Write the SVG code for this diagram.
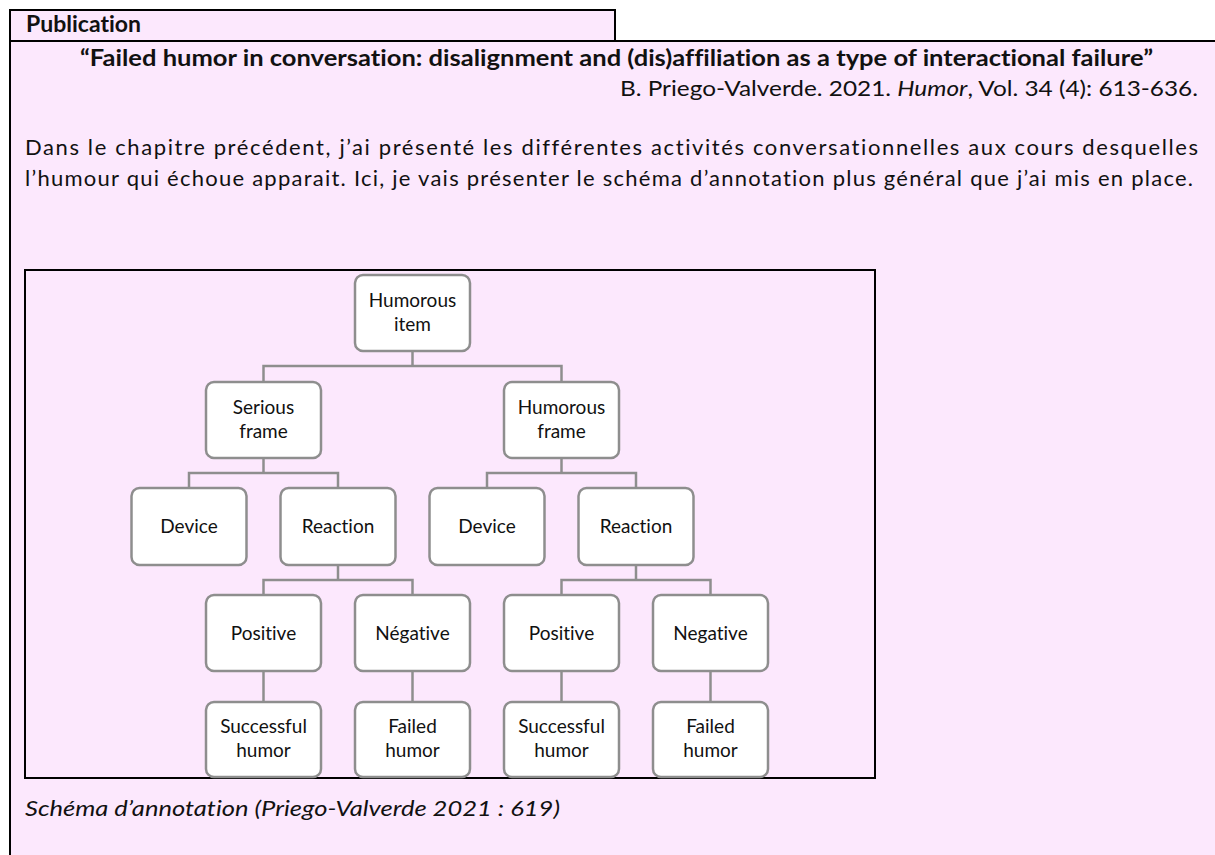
<svg xmlns="http://www.w3.org/2000/svg" width="1215" height="855" viewBox="0 0 1215 855">
<style>
.bg{fill:#fce8fd;stroke:#000;stroke-width:2}
.t{font-family:Lato,"Open Sans","Liberation Sans",sans-serif;fill:#111;font-variant-ligatures:none;font-feature-settings:"liga" 0,"clig" 0}
.b{font-weight:bold}
.i{font-style:italic}
.node rect{fill:#fff;stroke:#8e8e8e;stroke-width:2.5}
.node text{font-family:Lato,"Open Sans","Liberation Sans",sans-serif;font-size:19px;fill:#111;text-anchor:middle;font-variant-ligatures:none}
.conn path{fill:none;stroke:#8e8e8e;stroke-width:2.5}
</style>
<rect x="0" y="0" width="1215" height="855" fill="#fff"/>
<rect class="bg" x="10" y="41" width="1220" height="834"/>
<rect class="bg" x="10" y="10" width="605" height="31"/>
<text class="t b" x="26" y="32" font-size="22" textLength="115" lengthAdjust="spacingAndGlyphs">Publication</text>
<text class="t b" x="80" y="66" font-size="22" textLength="1073" lengthAdjust="spacingAndGlyphs">“Failed humor in conversation: disalignment and (dis)affiliation as a type of interactional failure”</text>
<text class="t" x="620" y="96" font-size="22" textLength="578" lengthAdjust="spacingAndGlyphs">B. Priego-Valverde. 2021. <tspan class="i">Humor</tspan>, Vol. 34 (4): 613-636.</text>
<text class="t" x="25" y="155" font-size="22" textLength="1173" lengthAdjust="spacing">Dans le chapitre précédent, j’ai présenté les différentes activités conversationnelles aux cours desquelles</text>
<text class="t" x="25" y="186" font-size="22" textLength="1168" lengthAdjust="spacing">l’humour qui échoue apparait. Ici, je vais présenter le schéma d’annotation plus général que j’ai mis en place.</text>
<rect class="bg" x="25" y="270" width="850" height="508"/>
<text class="t i" x="25" y="816" font-size="22" textLength="535" lengthAdjust="spacingAndGlyphs">Schéma d’annotation (Priego-Valverde 2021 : 619)</text>
<g class="conn">
<path d="M412.5 351V366M263.5 382V366H561.5V382"/>
<path d="M263.5 458V473M189 488V473H338V488"/>
<path d="M561.5 458V473M487 488V473H636V488"/>
<path d="M338 565V580M263.5 595V580H412.5V595"/>
<path d="M636 565V580M561.5 595V580H710.5V595"/>
<path d="M263.5 671V702M412.5 671V702M561.5 671V702M710.5 671V702"/>
</g>
<g id="n-humorous-item" class="node"><rect x="355" y="275" width="115" height="76" rx="8"/><text x="412.5" y="306.5">Humorous</text><text x="412.5" y="330.5">item</text></g>
<g id="n-serious-frame" class="node"><rect x="206" y="382" width="115" height="76" rx="8"/><text x="263.5" y="413.5">Serious</text><text x="263.5" y="437.5">frame</text></g>
<g id="n-humorous-frame" class="node"><rect x="504" y="382" width="115" height="76" rx="8"/><text x="561.5" y="413.5">Humorous</text><text x="561.5" y="437.5">frame</text></g>
<g id="n-device-l" class="node"><rect x="131.5" y="488" width="115" height="77" rx="8"/><text x="189" y="533">Device</text></g>
<g id="n-reaction-l" class="node"><rect x="280.5" y="488" width="115" height="77" rx="8"/><text x="338" y="533">Reaction</text></g>
<g id="n-device-r" class="node"><rect x="429.5" y="488" width="115" height="77" rx="8"/><text x="487" y="533">Device</text></g>
<g id="n-reaction-r" class="node"><rect x="578.5" y="488" width="115" height="77" rx="8"/><text x="636" y="533">Reaction</text></g>
<g id="n-positive-l" class="node"><rect x="206" y="595" width="115" height="76" rx="8"/><text x="263.5" y="640">Positive</text></g>
<g id="n-negative-l" class="node"><rect x="355" y="595" width="115" height="76" rx="8"/><text x="412.5" y="640">Négative</text></g>
<g id="n-positive-r" class="node"><rect x="504" y="595" width="115" height="76" rx="8"/><text x="561.5" y="640">Positive</text></g>
<g id="n-negative-r" class="node"><rect x="653" y="595" width="115" height="76" rx="8"/><text x="710.5" y="640">Negative</text></g>
<g id="n-successful-l" class="node"><rect x="206" y="702" width="115" height="75" rx="8"/><text x="263.5" y="733">Successful</text><text x="263.5" y="757">humor</text></g>
<g id="n-failed-l" class="node"><rect x="355" y="702" width="115" height="75" rx="8"/><text x="412.5" y="733">Failed</text><text x="412.5" y="757">humor</text></g>
<g id="n-successful-r" class="node"><rect x="504" y="702" width="115" height="75" rx="8"/><text x="561.5" y="733">Successful</text><text x="561.5" y="757">humor</text></g>
<g id="n-failed-r" class="node"><rect x="653" y="702" width="115" height="75" rx="8"/><text x="710.5" y="733">Failed</text><text x="710.5" y="757">humor</text></g>
</svg>
